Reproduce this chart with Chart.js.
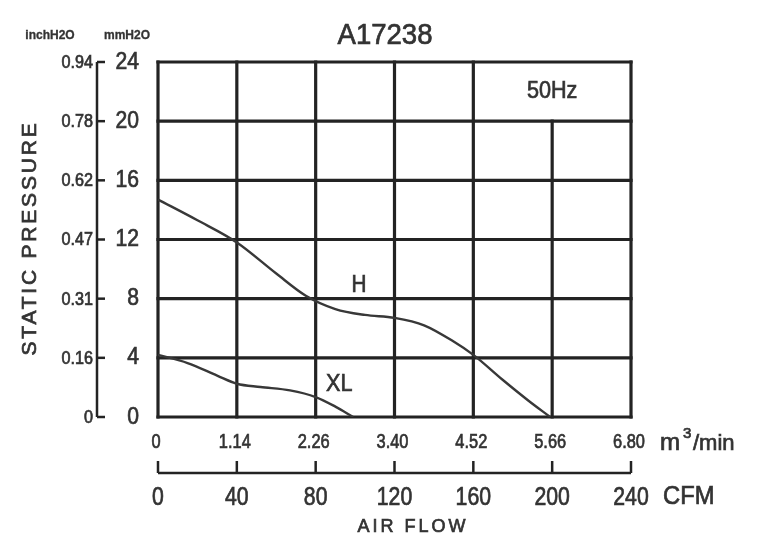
<!DOCTYPE html>
<html>
<head>
<meta charset="utf-8">
<script src="https://cdn.jsdelivr.net/npm/chart.js@4"></script>
<style>
  body { margin: 0; background: #fff; }
  canvas { display: block; }
</style>
</head>
<body>
<canvas id="fan" width="765" height="537"></canvas>
<script>
// tick values / labels
const cfmTicks = [0, 40, 80, 120, 160, 200, 240];
const m3Labels = ['0', '1.14', '2.26', '3.40', '4.52', '5.66', '6.80'];
const mmTicks = [0, 4, 8, 12, 16, 20, 24];
const inchLabels = ['0', '0.16', '0.31', '0.47', '0.62', '0.78', '0.94'];

// curves (x = CFM, y = mmH2O)
const hFlow = [0, 20, 40, 60, 75, 90, 105, 120, 135, 150, 160, 175, 188, 199];
const hPressure = [14.7, 13.3, 11.8, 9.7, 8.2, 7.3, 6.9, 6.7, 6.2, 5.1, 4.2, 2.5, 1.1, 0];
const xlFlow = [0, 15, 30, 40, 52, 67, 80, 90, 99];
const xlPressure = [4.2, 3.65, 2.8, 2.25, 2.03, 1.8, 1.35, 0.7, 0];

const ink = '#232323';
const textInk = '#333';
const fam = '"Liberation Sans", Arial, sans-serif';

// text with a faint outline so it looks as heavy as the scanned original
function txt(ctx, s, x, y, size, align, sx, spacing, weight) {
  ctx.save();
  ctx.font = (weight || '') + ' ' + size + 'px ' + fam;
  ctx.fillStyle = textInk;
  ctx.strokeStyle = textInk;
  ctx.lineWidth = size > 14 ? 0.7 : 0.3;
  ctx.textAlign = align || 'center';
  ctx.textBaseline = 'middle';
  if (spacing) ctx.letterSpacing = spacing + 'px';
  ctx.translate(x, y);
  ctx.scale(sx || 1, 1);
  ctx.fillText(s, 0, 0);
  ctx.strokeText(s, 0, 0);
  ctx.restore();
}

const paper = {
  id: 'paper',
  beforeDatasetsDraw(chart) {
    const ctx = chart.ctx;
    const xs = chart.scales.x, ys = chart.scales.y;
    const top = ys.getPixelForValue(24), bot = ys.getPixelForValue(0);
    const l = xs.getPixelForValue(0), r = xs.getPixelForValue(240);
    ctx.save();
    ctx.strokeStyle = ink;
    ctx.lineWidth = 3.2;
    ctx.lineCap = 'square';
    mmTicks.forEach(v => {
      const y = ys.getPixelForValue(v);
      ctx.beginPath(); ctx.moveTo(l, y); ctx.lineTo(r, y); ctx.stroke();
    });
    cfmTicks.forEach(v => {
      const x = xs.getPixelForValue(v);
      // the 200 CFM line stops under the "50Hz" box
      const y0 = v === 200 ? ys.getPixelForValue(20) : top;
      ctx.beginPath(); ctx.moveTo(x, y0); ctx.lineTo(x, bot); ctx.stroke();
    });
    ctx.restore();
  },
  afterDraw(chart) {
    const ctx = chart.ctx;
    const xs = chart.scales.x, ys = chart.scales.y;
    const top = ys.getPixelForValue(24), bot = ys.getPixelForValue(0);
    const l = xs.getPixelForValue(0), r = xs.getPixelForValue(240);

    // left pressure axis
    const ax = l - 61;
    ctx.save();
    ctx.strokeStyle = ink;
    ctx.lineWidth = 2.5;
    ctx.beginPath(); ctx.moveTo(ax, top); ctx.lineTo(ax, bot); ctx.stroke();
    mmTicks.forEach((v, i) => {
      const y = ys.getPixelForValue(v);
      ctx.beginPath(); ctx.moveTo(ax, y); ctx.lineTo(ax + 8, y); ctx.stroke();
      txt(ctx, String(v), ax + 42, y, 24, 'right', 0.88);
      txt(ctx, inchLabels[i], ax - 4, y + 1, 18, 'right', 0.9);
    });

    // CFM axis
    const cy = bot + 56;
    ctx.beginPath(); ctx.moveTo(l, cy); ctx.lineTo(r, cy); ctx.stroke();
    cfmTicks.forEach((v, i) => {
      const x = xs.getPixelForValue(v);
      ctx.beginPath(); ctx.moveTo(x, cy); ctx.lineTo(x, cy - 12); ctx.stroke();
      txt(ctx, String(v), x, cy + 25, 25, 'center', 0.85);
      txt(ctx, m3Labels[i], x - 2, bot + 25, 20, 'center', 0.82);
    });
    ctx.restore();

    // unit names and titles
    txt(ctx, 'CFM', r + 32, cy + 24, 25, 'left', 0.95);
    txt(ctx, 'm', r + 29, bot + 27, 23, 'left', 1.05);
    txt(ctx, '3', r + 52, bot + 17, 15, 'left');
    txt(ctx, '/min', r + 62, bot + 27, 22, 'left', 1.0);
    txt(ctx, 'AIR FLOW', 413, 527, 18, 'center', 1, 3);
    txt(ctx, 'A17238', 385, 36, 29, 'center', 0.95);
    txt(ctx, '50Hz', xs.getPixelForValue(200), ys.getPixelForValue(22), 24, 'center', 0.9);
    txt(ctx, 'H', xs.getPixelForValue(102), ys.getPixelForValue(8.9), 23, 'center', 0.9);
    txt(ctx, 'XL', xs.getPixelForValue(92), ys.getPixelForValue(2.2), 24, 'center', 0.9);
    txt(ctx, 'inchH2O', 50, 36, 12, 'center', 1, 0, 'bold');
    txt(ctx, 'mmH2O', 127, 36, 12, 'center', 1, 0, 'bold');

    ctx.save();
    ctx.translate(30, 238);
    ctx.rotate(-Math.PI / 2);
    txt(ctx, 'STATIC PRESSURE', 0, 0, 21, 'center', 1, 2.8);
    ctx.restore();
  }
};

const pts = (xs, ys) => xs.map((x, i) => ({ x: x, y: ys[i] }));

new Chart(document.getElementById('fan'), {
  type: 'line',
  data: {
    datasets: [
      { label: 'H', data: pts(hFlow, hPressure) },
      { label: 'XL', data: pts(xlFlow, xlPressure) }
    ]
  },
  options: {
    responsive: false,
    animation: false,
    layout: { padding: { left: 158, top: 62, right: 134, bottom: 120 } },
    elements: {
      line: { borderColor: '#383838', borderWidth: 2.4, cubicInterpolationMode: 'monotone', fill: false },
      point: { radius: 0 }
    },
    scales: {
      x: { type: 'linear', min: 0, max: 240, display: false },
      y: { type: 'linear', min: 0, max: 24, display: false }
    },
    plugins: { legend: { display: false }, tooltip: { enabled: false } }
  },
  plugins: [paper]
});
</script>
</body>
</html>
